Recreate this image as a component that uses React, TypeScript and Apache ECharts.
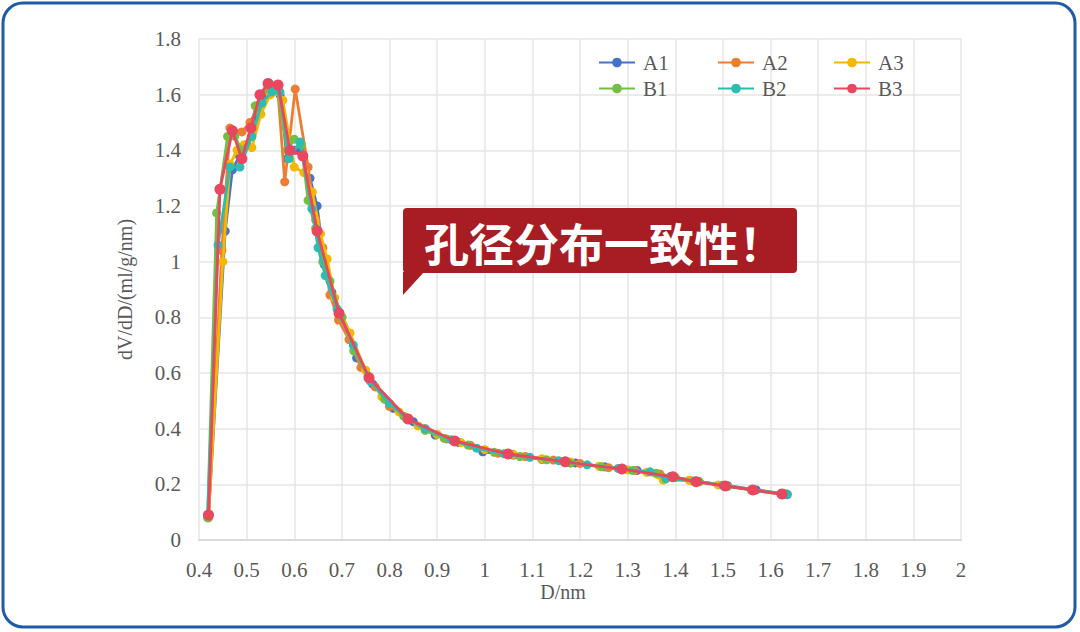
import React, { useEffect, useRef } from "react";
import * as echarts from "echarts";

const seriesNames = ["A1", "A2", "A3", "B1", "B2", "B3"];
const seriesColors = ["#4472C4", "#ED7D31", "#F4B800", "#72BF44", "#2DBDB0", "#E8475F"];

const xTicks = { min: 0.4, max: 2, interval: 0.1 };
const yTicks = { min: 0, max: 1.8, interval: 0.2 };

const A1 = [
  [0.42, 0.09], [0.455, 1.11], [0.47, 1.33], [0.485, 1.38], [0.5, 1.42], [0.522, 1.53],
  [0.54, 1.6], [0.555, 1.63], [0.57, 1.6], [0.585, 1.37], [0.6, 1.4], [0.615, 1.4],
  [0.633, 1.3], [0.648, 1.2], [0.663, 0.99], [0.679, 0.89], [0.7, 0.8], [0.731, 0.654],
  [0.765, 0.56], [0.808, 0.473], [0.85, 0.425], [0.896, 0.377], [0.946, 0.35], [0.996, 0.317],
  [1.06, 0.305], [1.12, 0.29], [1.19, 0.277], [1.252, 0.263], [1.32, 0.25], [1.39, 0.228],
  [1.45, 0.21], [1.51, 0.195], [1.57, 0.18], [1.635, 0.163],
];
const A2 = [
  [0.42, 0.08], [0.448, 1.04], [0.465, 1.48], [0.49, 1.466], [0.507, 1.5], [0.525, 1.56],
  [0.545, 1.63], [0.565, 1.63], [0.58, 1.287], [0.602, 1.62], [0.629, 1.34], [0.645, 1.15],
  [0.66, 1.05], [0.675, 0.88], [0.693, 0.79], [0.715, 0.72], [0.74, 0.62], [0.77, 0.55],
  [0.8, 0.48], [0.835, 0.44], [0.875, 0.4], [0.92, 0.363], [0.97, 0.34], [1.028, 0.312],
  [1.085, 0.3], [1.144, 0.287], [1.2, 0.275], [1.26, 0.26], [1.315, 0.25], [1.368, 0.237],
  [1.43, 0.215], [1.5, 0.197], [1.56, 0.18], [1.625, 0.166],
];
const A3 = [
  [0.42, 0.085], [0.45, 1.0], [0.465, 1.35], [0.48, 1.4], [0.495, 1.42], [0.511, 1.41],
  [0.53, 1.53], [0.55, 1.6], [0.566, 1.61], [0.576, 1.58], [0.6, 1.34], [0.62, 1.32],
  [0.638, 1.25], [0.655, 1.1], [0.669, 1.01], [0.685, 0.87], [0.717, 0.744], [0.75, 0.61],
  [0.784, 0.515], [0.82, 0.46], [0.86, 0.41], [0.9, 0.38], [0.95, 0.35], [1.0, 0.325],
  [1.06, 0.308], [1.12, 0.292], [1.18, 0.28], [1.24, 0.265], [1.3, 0.252], [1.34, 0.243],
  [1.375, 0.215], [1.43, 0.214], [1.49, 0.198], [1.56, 0.18], [1.63, 0.167],
];
const B1 = [
  [0.418, 0.08], [0.437, 1.175], [0.46, 1.45], [0.475, 1.45], [0.49, 1.4], [0.51, 1.45],
  [0.518, 1.56], [0.548, 1.64], [0.565, 1.63], [0.585, 1.4], [0.6, 1.44], [0.615, 1.42],
  [0.629, 1.22], [0.645, 1.12], [0.66, 1.0], [0.675, 0.93], [0.7, 0.8], [0.725, 0.68],
  [0.755, 0.59], [0.79, 0.505], [0.83, 0.445], [0.875, 0.394], [0.915, 0.365], [0.965, 0.341],
  [1.02, 0.315], [1.074, 0.3], [1.13, 0.288], [1.18, 0.276], [1.245, 0.263], [1.31, 0.25],
  [1.36, 0.24], [1.4, 0.225], [1.45, 0.21], [1.51, 0.193], [1.565, 0.178], [1.625, 0.163],
];
const B2 = [
  [0.418, 0.09], [0.44, 1.06], [0.465, 1.34], [0.486, 1.34], [0.511, 1.45], [0.532, 1.57],
  [0.553, 1.61], [0.57, 1.61], [0.589, 1.37], [0.612, 1.43], [0.637, 1.19], [0.65, 1.05],
  [0.665, 0.95], [0.69, 0.83], [0.724, 0.7], [0.76, 0.57], [0.8, 0.49], [0.84, 0.435],
  [0.875, 0.4], [0.93, 0.36], [0.983, 0.33], [1.04, 0.31], [1.095, 0.297], [1.155, 0.285],
  [1.215, 0.27], [1.28, 0.257], [1.347, 0.245], [1.38, 0.22], [1.44, 0.212], [1.5, 0.196],
  [1.56, 0.181], [1.635, 0.165],
];
const B3 = [
  [0.42, 0.09], [0.444, 1.26], [0.47, 1.47], [0.49, 1.37], [0.509, 1.48], [0.528, 1.6],
  [0.545, 1.64], [0.566, 1.635], [0.591, 1.4], [0.618, 1.38], [0.648, 1.11], [0.694, 0.815],
  [0.757, 0.583], [0.839, 0.435], [0.937, 0.356], [1.049, 0.309], [1.169, 0.281], [1.288, 0.255],
  [1.395, 0.227], [1.444, 0.209], [1.505, 0.194], [1.563, 0.18], [1.624, 0.165],
];
const seriesData = [A1, A2, A3, B1, B2, B3];

const legendLefts = [598, 717, 833];
const legendTops = [52, 78];

const calloutText = "孔径分布一致性！";
const xName = "D/nm";
const yName = "dV/dD/(ml/g/nm)";

const serif = "'Liberation Serif', 'Times New Roman', serif";

export default function App() {
  const ref = useRef<HTMLDivElement>(null);
  useEffect(() => {
    if (!ref.current) return;
    const chart = echarts.init(ref.current, undefined, { renderer: "svg" });
    const option: any = {
      animation: false,
      backgroundColor: "#ffffff",
      grid: { left: 199, right: 119, top: 39, bottom: 92 },
      legend: seriesNames.map((n, i) => ({
        data: [n],
        left: legendLefts[i % 3],
        top: legendTops[Math.floor(i / 3)],
        padding: 0,
        itemWidth: 36,
        itemHeight: 12,
        itemGap: 0,
        textStyle: { fontFamily: serif, fontSize: 21, color: "#595959", padding: [0, 0, 0, 3] },
      })),
      xAxis: {
        type: "value",
        min: xTicks.min,
        max: xTicks.max,
        interval: xTicks.interval,
        name: xName,
        nameLocation: "middle",
        nameGap: 42,
        nameMoveOverlap: false,
        nameTextStyle: { fontFamily: serif, fontSize: 20, color: "#595959", padding: [0, 34, 0, 0] },
        axisLine: { show: true, lineStyle: { color: "#d9d9d9", width: 2 } },
        axisTick: { show: false },
        axisLabel: {
          margin: 19,
          fontFamily: serif,
          fontSize: 21,
          color: "#595959",
          formatter: (v: number) => String(+v.toFixed(1)),
        },
        splitLine: { show: true, lineStyle: { color: "#e6e6e6", width: 1.5 } },
      },
      yAxis: {
        type: "value",
        min: yTicks.min,
        max: yTicks.max,
        interval: yTicks.interval,
        name: yName,
        nameLocation: "middle",
        nameGap: 64,
        nameMoveOverlap: false,
        nameTextStyle: { fontFamily: serif, fontSize: 20, color: "#595959" },
        axisLine: { show: false },
        axisTick: { show: false },
        axisLabel: {
          margin: 18,
          fontFamily: serif,
          fontSize: 21,
          color: "#595959",
          formatter: (v: number) => String(+v.toFixed(1)),
        },
        splitLine: { show: true, lineStyle: { color: "#e6e6e6", width: 1.5 } },
      },
      series: seriesNames.map((n, i) => ({
        name: n,
        type: "line",
        data: seriesData[i],
        symbol: "circle",
        symbolSize: i === 5 ? 11 : 9,
        itemStyle: { color: seriesColors[i] },
        lineStyle: { color: seriesColors[i], width: 2.8 },
        z: 2 + i,
      })),
      graphic: [
        {
          type: "rect",
          shape: { x: 3, y: 3, width: 1072, height: 624, r: 20 },
          style: { fill: "none", stroke: "#1f5ca6", lineWidth: 3 },
          z: 100,
        },
        {
          type: "rect",
          shape: { x: 403, y: 208, width: 394, height: 65, r: 4 },
          style: { fill: "#A81D24" },
          z: 100,
        },
        {
          type: "polygon",
          shape: { points: [[403, 268], [403, 295], [424, 272], [403, 272]] },
          style: { fill: "#A81D24" },
          z: 100,
        },
        {
          type: "text",
          x: 424,
          y: 242,
          style: {
            text: calloutText,
            fill: "#ffffff",
            font: "bold 45px 'Noto Sans CJK SC', sans-serif",
            textVerticalAlign: "middle",
            verticalAlign: "middle",
          },
          z: 101,
        },
      ],
    };
    chart.setOption(option);
    return () => chart.dispose();
  }, []);
  return (
    <div
      ref={ref}
      style={{ position: "fixed", left: 0, top: 0, width: 1080, height: 632, background: "#fff" }}
    />
  );
}
